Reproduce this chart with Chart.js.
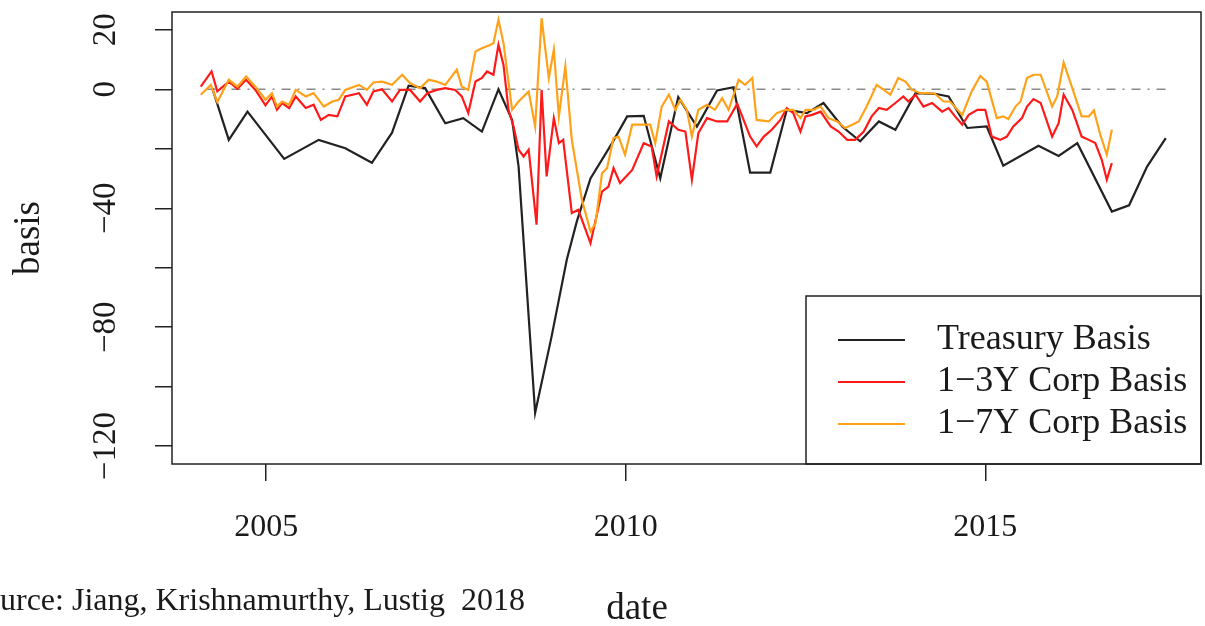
<!DOCTYPE html>
<html>
<head>
<meta charset="utf-8">
<script src="https://cdn.jsdelivr.net/npm/chart.js@4/dist/chart.umd.min.js"></script>
<style>
  html, body { margin: 0; padding: 0; background: #fff; }
  #wrap { width: 1205px; height: 626px; }
</style>
</head>
<body>
<div id="wrap"><canvas id="basisChart" width="1205" height="626"></canvas></div>
<script>
// treasury basis (decimal year, basis points)
var treasuryDates = [2004.25, 2004.48, 2004.74, 2005.25, 2005.73, 2006.10, 2006.47, 2006.75, 2006.98, 2007.21,
    2007.49, 2007.74, 2008.00, 2008.23, 2008.42, 2008.51, 2008.74, 2008.97, 2009.18, 2009.32,
    2009.51, 2009.81, 2010.02, 2010.25, 2010.48, 2010.73, 2010.99, 2011.27, 2011.50, 2011.73,
    2012.01, 2012.24, 2012.52, 2012.75, 2013.01, 2013.26, 2013.52, 2013.75, 2014.03, 2014.30,
    2014.49, 2014.75, 2015.02, 2015.25, 2015.74, 2016.02, 2016.28, 2016.76, 2017.00, 2017.25,
    2017.51];
var treasuryValues = [0.4, -17, -7.5, -23.4, -17, -19.8, -24.7, -14.6, 1.2, 0.4,
    -11.4, -9.7, -14.2, 0, -10.3, -26, -108.8, -83, -57.3, -44.4,
    -30, -18.1, -9.1, -8.9, -29.9, -2.6, -12.5, -0.4, 0.7, -28,
    -28, -6.9, -8, -4.6, -12.5, -17.5, -10.8, -13.6, -1.3, -1.5,
    -2.4, -13, -12.5, -25.7, -19, -22.4, -18.1, -41.1, -39, -26,
    -16.4];

// 1-3Y corporate basis
var corp13Dates = [2004.09, 2004.24, 2004.32, 2004.48, 2004.60, 2004.72, 2004.85, 2004.99, 2005.08, 2005.15,
    2005.22, 2005.32, 2005.41, 2005.55, 2005.66, 2005.76, 2005.87, 2005.99, 2006.10, 2006.29,
    2006.40, 2006.49, 2006.61, 2006.75, 2006.86, 2007.00, 2007.14, 2007.24, 2007.37, 2007.49,
    2007.63, 2007.72, 2007.81, 2007.91, 2008.00, 2008.07, 2008.16, 2008.23, 2008.30, 2008.37,
    2008.44, 2008.51, 2008.58, 2008.65, 2008.76, 2008.83, 2008.90, 2009.00, 2009.07, 2009.13,
    2009.25, 2009.34, 2009.51, 2009.67, 2009.76, 2009.83, 2009.92, 2010.09, 2010.25, 2010.36,
    2010.43, 2010.60, 2010.73, 2010.83, 2010.92, 2011.01, 2011.13, 2011.27, 2011.41, 2011.55,
    2011.62, 2011.73, 2011.82, 2011.92, 2012.03, 2012.15, 2012.24, 2012.33, 2012.43, 2012.50,
    2012.59, 2012.71, 2012.85, 2012.96, 2013.08, 2013.19, 2013.31, 2013.42, 2013.52, 2013.63,
    2013.75, 2013.86, 2013.93, 2014.03, 2014.14, 2014.26, 2014.40, 2014.49, 2014.58, 2014.68,
    2014.77, 2014.89, 2015.00, 2015.09, 2015.21, 2015.30, 2015.39, 2015.51, 2015.58, 2015.67,
    2015.77, 2015.93, 2016.02, 2016.09, 2016.21, 2016.34, 2016.44, 2016.53, 2016.62, 2016.69,
    2016.76];
var corp13Values = [0.9, 6, -0.7, 2.6, 0.2, 3.2, -0.2, -5.4, -2.4, -6.9,
    -4.6, -6.3, -2.4, -6.3, -5.2, -10.3, -8.6, -9.1, -2.4, -1.3,
    -5.2, -0.7, 0, -4.1, -0.2, -0.2, -4.1, -1.3, -0.2, 0.4,
    -0.2, -2.4, -8, 2.6, 3.8, 6, 4.9, 15, 8.2, -6.9,
    -12.5, -20.3, -22.6, -20.3, -45.5, -0.2, -29.3, -9.7, -18.1, -17,
    -41.6, -40.5, -51.7, -34.4, -32.7, -26.5, -31.5, -27.1, -18.1, -19.2,
    -29.3, -10.8, -13.6, -14.2, -30.4, -14.7, -9.7, -10.8, -10.8, -4.9,
    -9.1, -15.9, -19.2, -15.9, -13.6, -10.3, -6.3, -8, -14.2, -9.1,
    -8.6, -7.5, -12.5, -14.2, -17, -17, -14.2, -9.1, -6.3, -6.9,
    -4.6, -2.4, -4.1, -1.8, -5.8, -4.6, -7.5, -6.3, -9.1, -11.9,
    -8.6, -6.9, -6.9, -15.9, -17, -15.9, -12.5, -9.7, -5.8, -3.3,
    -4.6, -15.9, -11.4, -1.8, -6.9, -15.9, -17, -18.1, -23.7, -30.4,
    -24.8];

// 1-7Y corporate basis
var corp17Dates = [2004.09, 2004.23, 2004.32, 2004.48, 2004.60, 2004.72, 2004.85, 2004.99, 2005.08, 2005.15,
    2005.22, 2005.32, 2005.41, 2005.55, 2005.66, 2005.80, 2005.92, 2006.01, 2006.10, 2006.29,
    2006.40, 2006.49, 2006.61, 2006.75, 2006.89, 2007.00, 2007.14, 2007.26, 2007.37, 2007.49,
    2007.65, 2007.72, 2007.81, 2007.91, 2008.00, 2008.12, 2008.16, 2008.23, 2008.30, 2008.42,
    2008.51, 2008.65, 2008.74, 2008.83, 2008.93, 2009.00, 2009.07, 2009.16, 2009.25, 2009.39,
    2009.51, 2009.58, 2009.67, 2009.74, 2009.83, 2009.90, 2009.99, 2010.09, 2010.25, 2010.34,
    2010.41, 2010.50, 2010.60, 2010.69, 2010.76, 2010.85, 2010.92, 2011.01, 2011.13, 2011.24,
    2011.34, 2011.43, 2011.57, 2011.66, 2011.76, 2011.82, 2011.99, 2012.10, 2012.22, 2012.33,
    2012.43, 2012.50, 2012.61, 2012.71, 2012.82, 2012.94, 2013.05, 2013.15, 2013.24, 2013.35,
    2013.49, 2013.59, 2013.68, 2013.79, 2013.89, 2013.98, 2014.10, 2014.21, 2014.30, 2014.42,
    2014.51, 2014.68, 2014.81, 2014.93, 2015.02, 2015.16, 2015.25, 2015.32, 2015.42, 2015.49,
    2015.58, 2015.67, 2015.77, 2015.93, 2016.00, 2016.09, 2016.21, 2016.34, 2016.44, 2016.51,
    2016.60, 2016.69, 2016.76];
var corp17Values = [-1.8, 1.5, -4.3, 3.2, 0.9, 4.3, 0.9, -3.5, -1.3, -5.8,
    -4.1, -5.2, -0.2, -2.4, -1.3, -5.8, -4.1, -3.5, -0.2, 1.5,
    -0.2, 2.3, 2.6, 1.5, 4.9, 2.1, 0.4, 3.2, 2.6, 1.5,
    6.6, 0.9, -0.2, 12.7, 13.8, 15, 15.5, 23.4, 15.5, -6.9,
    -4.1, -0.7, -12.5, 23.9, 3.8, 13.3, -9.1, 7.7, -17, -37.1,
    -47.8, -45, -28.2, -26.5, -16.4, -15.9, -22, -11.9, -11.9, -11.9,
    -18.1, -5.8, -1.8, -6.9, -3.5, -6.9, -15.9, -6.9, -5.2, -6.9,
    -3, -6.9, 3.2, 1.5, 3.8, -10.3, -10.8, -8, -6.9, -6.9,
    -9.7, -6.9, -6.9, -5.8, -9.7, -10.8, -13, -11.9, -10.8, -5.8,
    1.5, -0.2, -1.8, 3.8, 2.6, -0.2, -1.3, -1.3, -1.5, -4.1,
    -4.1, -8.6, -0.7, 4.5, 2.6, -9.7, -9.1, -10, -5.8, -4.1,
    3.8, 4.9, 4.9, -5.8, -2.4, 9, 0.4, -9.1, -9.1, -7.1,
    -15.3, -22, -13.6];

var zeroLineDates = [2004.17, 2017.51];
var xTicks = [2005, 2010, 2015];
var yTicks = [20, 0, -20, -40, -60, -80, -100, -120];
var yTickLabels = [20, 0, -40, -80, -120];
var seriesNames = ['Treasury Basis', '1\u22123Y Corp Basis', '1\u22127Y Corp Basis'];
var seriesColors = ['#222222', '#ff1a1a', '#ffa21a'];

var serif = '"Liberation Serif", "Times New Roman", serif';
var textColor = '#1a1a1a';

function toPoints(xs, ys) {
    return xs.map(function (x, i) { return { x: x, y: ys[i] }; });
}

// box, rotated y labels, titles and legend, R style
var rPlotStyle = {
    id: 'rPlotStyle',
    afterDraw: function (chart) {
        var ctx = chart.ctx;
        var area = chart.chartArea;
        var yScale = chart.scales.y;
        ctx.save();

        // y tick labels, rotated like R
        ctx.fillStyle = textColor;
        ctx.font = '33px ' + serif;
        ctx.textAlign = 'center';
        ctx.textBaseline = 'middle';
        yTickLabels.forEach(function (v) {
            var y = yScale.getPixelForValue(v);
            ctx.save();
            ctx.translate(106, y);
            ctx.rotate(-Math.PI / 2);
            ctx.fillText(v < 0 ? '\u2212' + Math.abs(v) : String(v), 0, 0);
            ctx.restore();
        });

        // axis titles
        ctx.font = '37px ' + serif;
        ctx.save();
        ctx.translate(29, (area.top + area.bottom) / 2);
        ctx.rotate(-Math.PI / 2);
        ctx.fillText('basis', 0, 0);
        ctx.restore();
        ctx.fillText('date', 637, 609);

        // source note
        ctx.font = '32px ' + serif;
        ctx.textAlign = 'left';
        ctx.fillText('urce: Jiang, Krishnamurthy, Lustig  2018', 0, 602);

        // legend
        var lw = 395, lh = 168;
        var lx = area.right - lw, ly = area.bottom - lh;
        ctx.fillStyle = '#fff';
        ctx.fillRect(lx, ly, lw, lh);
        ctx.strokeStyle = '#222';
        ctx.lineWidth = 1.5;
        ctx.strokeRect(lx, ly, lw, lh);
        ctx.font = '36px ' + serif;
        seriesNames.forEach(function (name, i) {
            var yy = ly + 44 + i * 42;
            ctx.strokeStyle = seriesColors[i];
            ctx.lineWidth = 2;
            ctx.beginPath();
            ctx.moveTo(lx + 32, yy);
            ctx.lineTo(lx + 99, yy);
            ctx.stroke();
            ctx.fillStyle = textColor;
            ctx.textAlign = 'left';
            ctx.fillText(name, lx + 131, yy);
        });

        // plot box
        ctx.strokeStyle = '#222';
        ctx.lineWidth = 1.5;
        ctx.strokeRect(area.left, area.top, area.right - area.left, area.bottom - area.top);
        ctx.restore();
    }
};

var ctx = document.getElementById('basisChart');
var basisChart = new Chart(ctx, {
    type: 'line',
    data: {
        datasets: [{
            label: 'zero',
            data: toPoints(zeroLineDates, [0, 0]),
            borderColor: '#8a8a8a',
            borderWidth: 1.5,
            borderDash: [9, 7, 2, 7],
            order: 4
        }, {
            label: seriesNames[0],
            data: toPoints(treasuryDates, treasuryValues),
            borderColor: seriesColors[0],
            borderWidth: 2.2,
            order: 3
        }, {
            label: seriesNames[1],
            data: toPoints(corp13Dates, corp13Values),
            borderColor: seriesColors[1],
            borderWidth: 2.2,
            order: 2
        }, {
            label: seriesNames[2],
            data: toPoints(corp17Dates, corp17Values),
            borderColor: seriesColors[2],
            borderWidth: 2.2,
            order: 1
        }]
    },
    options: {
        responsive: false,
        animation: false,
        events: [],
        elements: {
            point: { radius: 0 },
            line: { tension: 0, fill: false }
        },
        layout: {
            padding: { left: 0, right: 4, top: 12, bottom: 0 }
        },
        scales: {
            x: {
                type: 'linear',
                min: 2003.69,
                max: 2018.0,
                afterBuildTicks: function (scale) {
                    scale.ticks = xTicks.map(function (v) { return { value: v }; });
                },
                afterFit: function (scale) { scale.height = 162; },
                border: { display: false },
                grid: {
                    drawOnChartArea: false,
                    drawTicks: true,
                    tickLength: 17,
                    color: '#222',
                    lineWidth: 1.5
                },
                ticks: {
                    autoSkip: false,
                    maxRotation: 0,
                    padding: 27,
                    color: textColor,
                    font: { family: serif, size: 32 },
                    callback: function (v) { return String(v); }
                }
            },
            y: {
                type: 'linear',
                min: -126,
                max: 26,
                afterBuildTicks: function (scale) {
                    scale.ticks = yTicks.map(function (v) { return { value: v }; });
                },
                afterFit: function (scale) { scale.width = 172; },
                border: { display: false },
                grid: {
                    drawOnChartArea: false,
                    drawTicks: true,
                    tickLength: 17,
                    color: '#222',
                    lineWidth: 1.5
                },
                ticks: { display: false }
            }
        },
        plugins: {
            legend: { display: false },
            tooltip: { enabled: false },
            title: { display: false }
        }
    },
    plugins: [rPlotStyle]
});
</script>
</body>
</html>
